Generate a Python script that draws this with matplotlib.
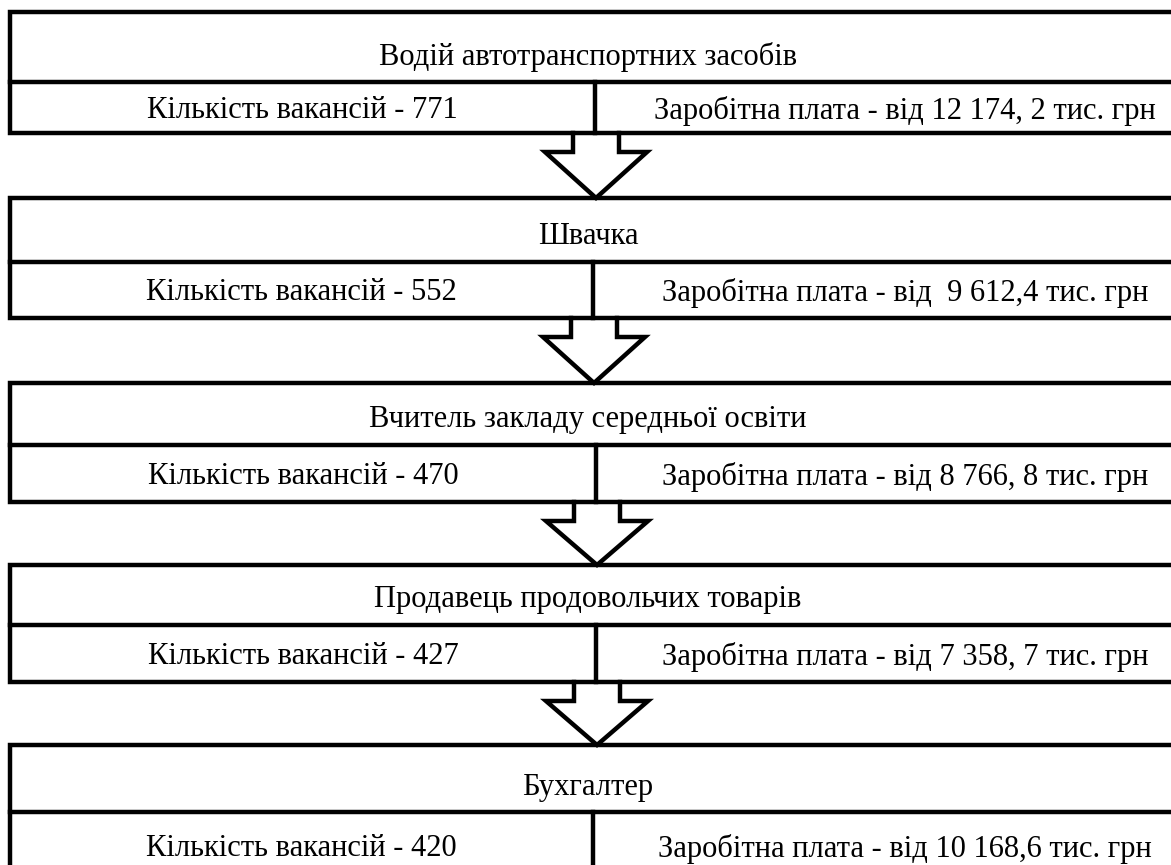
import matplotlib.pyplot as plt
from matplotlib.lines import Line2D

# data
professions = [
    "Водій автотранспортних засобів",
    "Швачка",
    "Вчитель закладу середньої освіти",
    "Продавець продовольчих товарів",
    "Бухгалтер",
]
vacancies = [771, 552, 470, 427, 420]
salaries = [
    "12 174, 2",
    " 9 612,4",
    "8 766, 8",
    "7 358, 7",
    "10 168,6",
]

# layout in pixels (y down)
W, H = 1171, 865
LEFT, RIGHT = 10, 1176
block_tops = [12, 198, 383, 565, 745]
block_mids = [82, 262, 445, 625, 812]
block_bots = [133, 318, 502, 682, 880]
dividers = [595, 593, 596, 596, 593]
LW = 3.2
FS = 22

plt.rcParams["font.family"] = ["Liberation Serif", "DejaVu Serif"]

fig = plt.figure(figsize=(W / 100, H / 100), dpi=100)
ax = fig.add_axes([0, 0, 1, 1])
ax.set_xlim(0, W)
ax.set_ylim(H, 0)
ax.axis("off")


def line(xs, ys):
    ax.add_line(Line2D(xs, ys, color="black", lw=LW,
                       solid_joinstyle="miter", solid_capstyle="projecting"))


for i, name in enumerate(professions):
    top, mid, bot, div = block_tops[i], block_mids[i], block_bots[i], dividers[i]
    line([RIGHT, LEFT, LEFT, RIGHT], [top, top, bot, bot])
    line([LEFT, RIGHT], [mid, mid])
    line([div, div], [mid, bot])

    ax.text((LEFT + 1166) / 2, mid - 25, name, ha="center", va="center", fontsize=FS)
    ax.text((LEFT + div) / 2, (mid + bot) / 2 + 3,
            f"Кількість вакансій - {vacancies[i]}",
            ha="center", va="center", fontsize=FS)
    ax.text(905, (mid + bot) / 2 + 3,
            f"Заробітна плата - від {salaries[i]} тис. грн",
            ha="center", va="center", fontsize=FS)

    # arrow to next block
    if i < len(professions) - 1:
        nxt = block_tops[i + 1]
        cx = div + 1
        sh = bot + 19
        line([cx - 23, cx - 23, cx - 51, cx, cx + 51, cx + 23, cx + 23],
             [bot, sh, sh, nxt, sh, sh, bot])

fig.savefig("out.png", dpi=100)
